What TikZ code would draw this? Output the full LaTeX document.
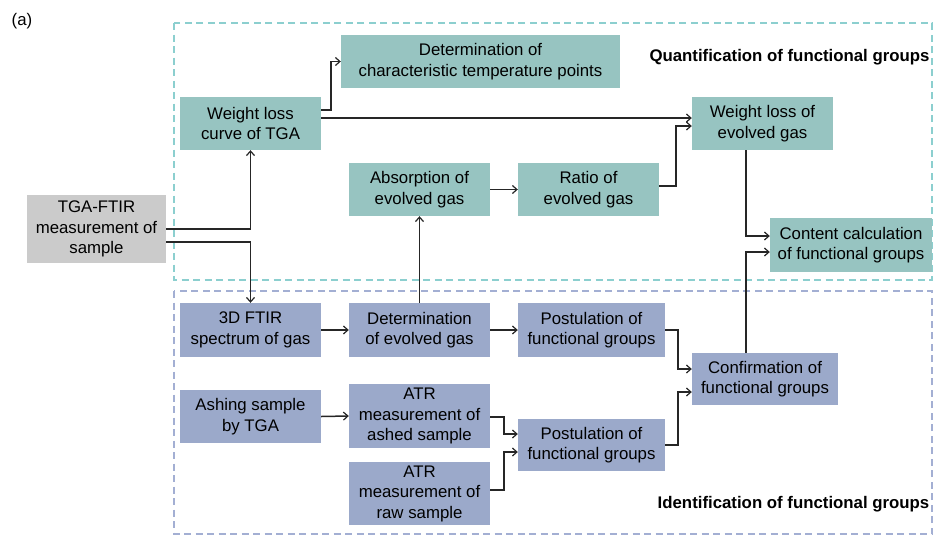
\documentclass[tikz,border=0pt]{standalone}
\usepackage{fontspec}
\setmainfont{Liberation Sans}
\usetikzlibrary{arrows.meta}
\definecolor{tealfill}{HTML}{97C4C1}
\definecolor{bluefill}{HTML}{9BA9CA}
\definecolor{grayfill}{HTML}{CBCBCB}
\definecolor{tealdash}{HTML}{8CCFCF}
\definecolor{bluedash}{HTML}{A3AFD3}
\begin{document}
\begin{tikzpicture}[x=1pt,y=-1pt,
  every node/.style={font=\fontsize{16.8}{20.5}\selectfont, inner sep=0pt, align=center},
  basebox/.style={rectangle, draw=none, minimum width=141pt, minimum height=53pt},
  tbox/.style={basebox, fill=tealfill},
  bbox/.style={basebox, fill=bluefill},
  gbox/.style={basebox, fill=grayfill},
  conn/.style={draw=black!85, line width=1.5pt, -{Straight Barb[length=4.5pt,width=8pt,line width=1.2pt]}},
  dashbox/.style={line width=1.1pt, dash pattern=on 7pt off 4.5pt},
  title/.style={font=\fontsize{16.8}{20}\selectfont\bfseries}]
\useasboundingbox (0,0) rectangle (934,536);
% dashed group frames
\draw[dashbox, draw=tealdash] (174,23) rectangle (932,280);
\draw[dashbox, draw=bluedash] (174,291) rectangle (932,534);
% labels
\node (lbl) at (22,21) {(a)};
\node[title] (q) at (789.5,57) {Quantification of functional groups};
\node[title] (i) at (793.5,504) {Identification of functional groups};
% nodes
\node[gbox, minimum width=139pt, minimum height=68pt] (tga) at (96.5,229) {TGA-FTIR\\measurement of\\sample};
\node[tbox] (wl) at (250.5,123.5) {Weight loss\\curve of TGA};
\node[tbox, minimum width=279pt] (det) at (480.5,61.5) {Determination of\\characteristic temperature points};
\node[tbox] (abs) at (419.5,189.5) {Absorption of\\evolved gas};
\node[tbox] (ratio) at (588.5,189.5) {Ratio of\\evolved gas};
\node[tbox] (wle) at (762.5,123.5) {Weight loss of\\evolved gas};
\node[tbox, minimum width=162pt, minimum height=54pt] (cont) at (851,245) {Content calculation\\of functional groups};
\node[bbox, minimum height=54pt] (ftir) at (250.5,330) {3D FTIR\\spectrum of gas};
\node[bbox, minimum height=54pt] (dege) at (419.5,330) {Determination\\of evolved gas};
\node[bbox, minimum width=147pt, minimum height=54pt] (post1) at (591.5,330) {Postulation of\\functional groups};
\node[bbox, minimum width=146pt, minimum height=52pt] (conf) at (765,379) {Confirmation of\\functional groups};
\node[bbox] (ash) at (250.5,416.5) {Ashing sample\\by TGA};
\node[bbox, minimum height=64pt] (atra) at (419.5,416) {ATR\\measurement of\\ashed sample};
\node[bbox, minimum height=63pt] (atrr) at (419.5,493.5) {ATR\\measurement of\\raw sample};
\node[bbox, minimum width=147pt, minimum height=52pt] (post2) at (591.5,445) {Postulation of\\functional groups};
% connectors
\draw[conn] (tga.east) -| (wl.south);
\draw[conn] ([yshift=-13pt]tga.east) -| (ftir.north);
\draw[conn] ([yshift=13.5pt]wl.east) -- ++(10,0) |- (det.west);
\draw[conn] ([yshift=5.5pt]wl.east) -- ([yshift=5.5pt]wle.west);
\draw[conn] ([yshift=3.5pt]ratio.east) -- ++(17,0) |- ([yshift=-2.5pt]wle.west);
\draw[conn] ([xshift=-16.5pt]wle.south) |- ([yshift=9pt]cont.west);
\draw[conn] ([xshift=-19pt]conf.north) |- ([yshift=-7pt]cont.west);
\draw[conn] (abs.east) -- (ratio.west);
\draw[conn] (dege.north) -- (abs.south);
\draw[conn] (ftir.east) -- (dege.west);
\draw[conn] (dege.east) -- (post1.west);
\draw[conn] (post1.east) -- ++(13,0) |- ([yshift=10pt]conf.west);
\draw[conn] (post2.east) -- ++(13,0) |- ([yshift=-13pt]conf.west);
\draw[conn] (ash.east) -- (atra.west);
\draw[conn] ([yshift=-1pt]atra.east) -- ++(14,0) |- ([yshift=11pt]post2.west);
\draw[conn] ([yshift=3.5pt]atrr.east) -- ++(14,0) |- ([yshift=-7pt]post2.west);
\end{tikzpicture}
\end{document}
